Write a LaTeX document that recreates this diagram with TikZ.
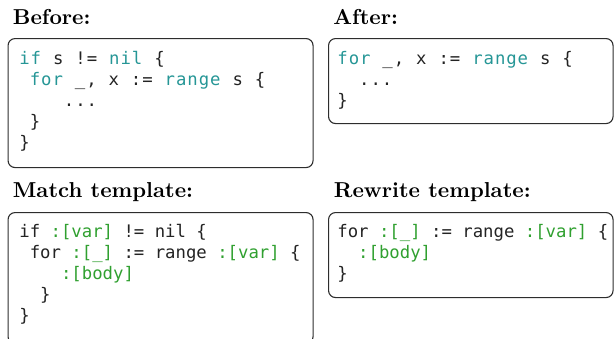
\documentclass[tikz,border=0pt]{standalone}
\usepackage{fontspec}
\setmonofont{DejaVu Sans Mono}
\newfontfamily\gomono[LetterSpace=5.5,WordSpace=1.05]{DejaVu Sans Mono}
\usepackage{tikz}
\usetikzlibrary{positioning}

\definecolor{kwteal}{RGB}{38,150,150}
\definecolor{holegreen}{RGB}{48,160,48}
\definecolor{codeink}{RGB}{35,35,35}
\definecolor{boxline}{RGB}{45,45,45}

\newcommand\kw[1]{\textcolor{kwteal}{#1}}
\newcommand\hole[1]{\textcolor{holegreen}{#1}}
% leading indentation
\newcommand\lead[1]{\hphantom{#1}}

\tikzset{
  codebox/.style={draw=boxline, line width=0.55pt, rounded corners=3.5pt,
    anchor=north west, inner sep=0pt},
  codetext/.style={anchor=north west, inner sep=0pt, align=left, text=codeink,
    font=\fontsize{8.65}{10.5}\selectfont\ttfamily},
  gocode/.style={codetext, font=\fontsize{8.65}{10.5}\selectfont\gomono},
  heading/.style={anchor=base west, inner sep=0pt,
    font=\fontsize{10.8}{12}\selectfont\bfseries}
}

\begin{document}
\begin{tikzpicture}[x=0.5pt,y=-0.5pt]
\useasboundingbox (0,0) rectangle (615,338);
% headings
\node[heading] (beforehead) at (12.5,24) {Before:};
\node[heading] (afterhead) at (333,24) {After:};
\node[heading] (matchhead) at (12.5,197) {Match template:};
\node[heading] (rewritehead) at (333.5,197) {Rewrite template:};
% boxes
\node[codebox, minimum width=152.5pt, minimum height=64.5pt] (before) at (7.5,38) {};
\node[codebox, minimum width=142.25pt, minimum height=42.5pt] (after) at (328,38) {};
\node[codebox, minimum width=152.5pt, minimum height=65.6pt] (match) at (7.5,212) {};
\node[codebox, minimum width=142.25pt, minimum height=42.5pt] (rewrite) at (328,212) {};
% code
\node[gocode] (beforecode) at (19,50.5) {%
\kw{if} s != \kw{nil} \{\\
\lead{x}\kw{for} \_, x := \kw{range} s \{\\
\lead{xxxx}...\\
\lead{x}\}\\
\}};
\node[gocode] (aftercode) at (337,50.5) {%
\kw{for} \_, x := \kw{range} s \{\\
\lead{xx}...\\
\}};
\node[codetext] (matchcode) at (19,224) {%
if \hole{:[var]} != nil \{\\
\lead{x}for \hole{:[\_]} := range \hole{:[var]} \{\\
\lead{xxxx}\hole{:[body]}\\
\lead{xx}\}\\
\}};
\node[codetext] (rewritecode) at (337,224) {%
for \hole{:[\_]} := range \hole{:[var]} \{\\
\lead{xx}\hole{:[body]}\\
\}};
\end{tikzpicture}
\end{document}
